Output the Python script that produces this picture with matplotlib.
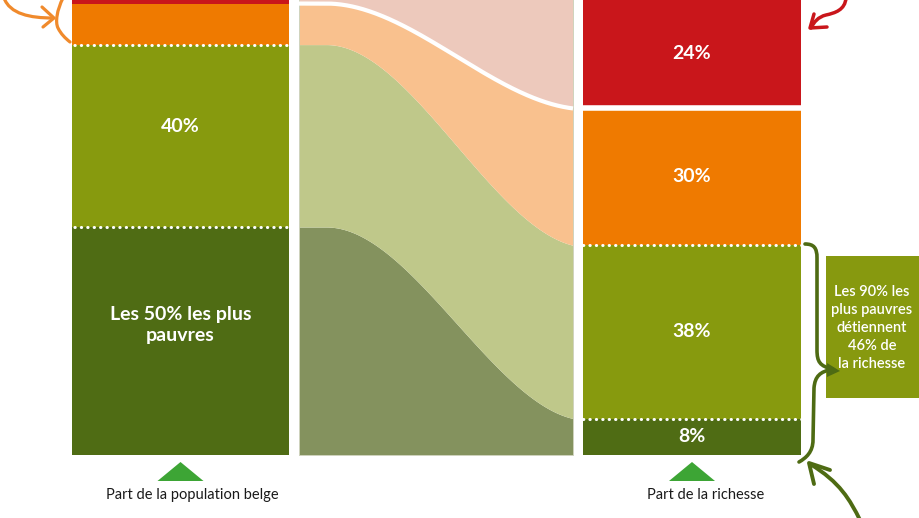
import numpy as np
import matplotlib
matplotlib.use('Agg')
import matplotlib.pyplot as plt
from matplotlib.path import Path
from matplotlib.patches import PathPatch, Rectangle

plt.rcParams['font.family'] = ['Lato', 'DejaVu Sans']

# parts de la population (du bas vers le haut) et parts de la richesse
pop_share = [50, 40, 9, 1]
wealth_share = [8, 38, 30, 24]
pop_labels = ['Les 50% les plus\npauvres', '40%', '', '']
wealth_labels = ['8%', '38%', '30%', '24%']
note_text = 'Les 90% les\nplus pauvres\ndétiennent\n46% de\nla richesse'
left_title = 'Part de la population belge'
right_title = 'Part de la richesse'

bar_colors = ['#4f6c14', '#879a0e', '#ef7a00', '#c9161b']
flow_colors = ['#84925e', '#bfc88a', '#f9c18e', '#edc9bc']
green_dark = '#4e6b13'

# mise en page (pixels)
W, H = 920, 518
base = 455          # pixel du 0 %
k = 4.56            # pixels par %
left_x = (72, 289)
mid_x = (299, 573)
right_x = (583, 801)

fig = plt.figure(figsize=(W / 100, H / 100), dpi=100)
ax = fig.add_axes([0, 0, 1, 1])
ax.set_xlim(0, W)
ax.set_ylim(-(H - base) / k, base / k)
ax.axis('off')

cum_pop = np.concatenate([[0], np.cumsum(pop_share)])
cum_w = np.concatenate([[0], np.cumsum(wealth_share)])

lc = (left_x[0] + left_x[1]) / 2
rc = (right_x[0] + right_x[1]) / 2
ax.bar(lc, pop_share, bottom=cum_pop[:-1], width=left_x[1] - left_x[0],
       color=bar_colors, linewidth=0)
ax.bar(rc, wealth_share, bottom=cum_w[:-1], width=right_x[1] - right_x[0],
       color=bar_colors, linewidth=0)

# flux entre les deux barres
t = np.linspace(0, 1, 300)
u = np.clip((t - 0.1) / 0.95, 0, 1)
s = 3 * u ** 2 - 2 * u ** 3
s = s / s[-1]
xf = mid_x[0] + t * (mid_x[1] - mid_x[0])
for i in range(len(pop_share)):
    lo = cum_pop[i] + (cum_w[i] - cum_pop[i]) * s
    hi = cum_pop[i + 1] + (cum_w[i + 1] - cum_pop[i + 1]) * s
    if i == len(pop_share) - 1:
        hi = np.full_like(t, 110)
    ax.fill_between(xf, lo, hi, color=flow_colors[i], linewidth=0)
ax.add_patch(Rectangle((mid_x[0], 0), mid_x[1] - mid_x[0], 110, fill=False,
                       edgecolor='#cfd3bd', linewidth=0.7))

# séparation blanche du top 1 %
ax.plot(xf, cum_pop[3] + (cum_w[3] - cum_pop[3]) * s, color='white', lw=3,
        solid_capstyle='butt')
ax.plot(right_x, [cum_w[3], cum_w[3]], color='white', lw=4)

# lignes pointillées
dots = dict(color='white', lw=2.2, linestyle=(0, (0.1, 2.0)), dash_capstyle='round')
for v in cum_pop[1:3]:
    ax.plot([left_x[0] - 4, left_x[1]], [v, v], **dots)
for v in cum_w[1:3]:
    ax.plot([right_x[0], right_x[1] + 3], [v, v], **dots)

# étiquettes dans les barres
for lab, b, h in zip(pop_labels, cum_pop[:-1], pop_share):
    if lab:
        off = 3.5 if '\n' in lab else 2
        ax.text(lc, b + h / 2 + off, lab, color='white', fontsize=14,
                fontweight='bold', ha='center', va='center', linespacing=1.3)
for lab, b, h in zip(wealth_labels, cum_w[:-1], wealth_share):
    ax.text(rc, b + h / 2, lab, color='white', fontsize=14,
            fontweight='bold', ha='center', va='center')

# décorations en pixels
deco = fig.add_axes([0, 0, 1, 1])
deco.set_xlim(0, W)
deco.set_ylim(H, 0)
deco.axis('off')
deco.patch.set_alpha(0)


def curve(verts, codes, color, lw):
    deco.add_patch(PathPatch(Path(verts, codes), fill=False, edgecolor=color,
                             lw=lw, capstyle='round', joinstyle='round'))


M, C, L = Path.MOVETO, Path.CURVE4, Path.LINETO
orange = '#f08a2c'
red = '#c9161b'
# flèche et accolade oranges
curve([(4, -2), (10, 14), (30, 18), (53, 18)], [M, C, C, C], orange, 2.3)
curve([(42, 7), (54, 18), (43, 27)], [M, L, L], orange, 2.3)
curve([(63, -2), (57, 10), (55, 22), (58, 28), (61, 34), (65, 38), (70, 42)],
      [M, C, C, C, C, C, C], orange, 2.3)
# flèche rouge
curve([(846, -2), (845, 10), (835, 13), (826, 15), (818, 17), (814, 22), (811, 28)],
      [M, C, C, C, C, C, C], red, 2.5)
curve([(814, 14), (810, 28), (827, 27)], [M, L, L], red, 2.5)

# encadré vert
deco.add_patch(Rectangle((826, 256), 100, 142, color='#87990f', lw=0))
deco.fill([827, 827, 840], [363, 377, 371], color=green_dark, lw=0)
deco.text(872, 328, note_text, color='white', fontsize=10.5, ha='center',
          va='center', linespacing=1.38, fontweight='semibold')
# accolade verte
curve([(805, 244), (814, 244), (817, 248), (817, 258), (817, 350),
       (817, 362), (820, 366), (832, 369)],
      [M, C, C, C, L, C, C, C], green_dark, 2.6)
curve([(832, 369), (820, 372), (815, 376), (814, 388), (813, 440),
       (813, 452), (806, 458), (799, 462)],
      [M, C, C, C, L, C, C, C], green_dark, 2.6)
# flèche verte
curve([(860, 520), (850, 500), (840, 482), (810, 464)], [M, C, C, C], green_dark, 2.8)
curve([(830, 470), (809, 463), (814, 484)], [M, L, L], green_dark, 2.8)

# triangles et titres sous les barres
for cx, title, off in [(lc, left_title, 12), (rc, right_title, 14)]:
    deco.fill([cx - 23, cx + 23, cx], [481, 481, 462], color='#3da535', lw=0)
    deco.text(cx + off, 495, title, color='#1a1a1a', fontsize=10.5,
              ha='center', va='center')

fig.savefig('out.png', dpi=100)
